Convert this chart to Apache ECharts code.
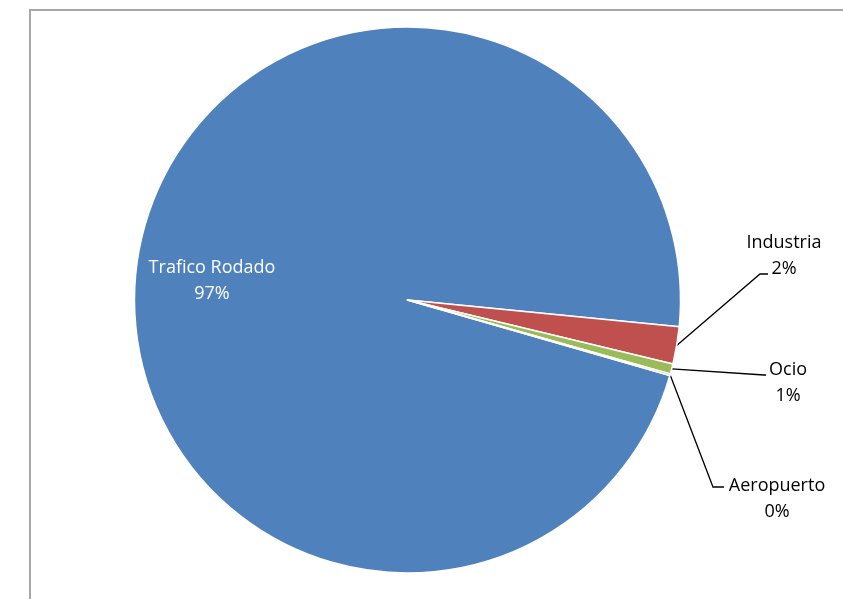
<!DOCTYPE html>
<html>
<head>
<meta charset="utf-8">
<style>
  html, body { margin: 0; padding: 0; background: #ffffff; overflow: hidden; }
  #frame { position: absolute; left: 29px; top: 9px; width: 900px; height: 700px; border: 2px solid #a8a8a8; box-sizing: border-box; }
  #chart { position: absolute; left: 0; top: 0; width: 843px; height: 599px; }
</style>
<script src="https://cdn.jsdelivr.net/npm/echarts@6/dist/echarts.min.js"></script>
</head>
<body>
<div id="frame"></div>
<div id="chart"></div>
<script>
// Data
var categories = ['Trafico Rodado', 'Industria', 'Ocio', 'Aeropuerto'];
var values = [97.1, 2.2, 0.6, 0.1];
var percentLabels = ['97%', '2%', '1%', '0%'];
var colors = ['#4F81BD', '#C0504D', '#9BBB59', '#8064A2'];

// Label placement (layout only)
var labelPlacement = [
  { x: 212, y: 281, line: null },
  { x: 784, y: 256, line: [[760, 274], [768, 274]] },
  { x: 788, y: 383, line: [[764, 375], [766, 375]] },
  { x: 777, y: 499, line: [[713, 487], [724, 487]] }
];

var chart = echarts.init(document.getElementById('chart'), null, { renderer: 'canvas' });

var pieData = categories.map(function (name, i) {
  return {
    name: name,
    value: values[i],
    itemStyle: { color: colors[i] },
    label: {
      show: true,
      formatter: name + '\n' + percentLabels[i],
      color: i === 0 ? '#ffffff' : '#000000',
      position: i === 0 ? 'inside' : 'outside'
    },
    labelLine: { show: i !== 0 }
  };
});

chart.setOption({
  animation: false,
  backgroundColor: 'transparent',
  series: [{
    type: 'pie',
    center: [407.5, 300],
    radius: [0, 273],
    startAngle: -16.06,
    clockwise: true,
    avoidLabelOverlap: false,
    itemStyle: { borderColor: '#ffffff', borderWidth: 1.5 },
    label: {
      fontFamily: '"Open Sans", sans-serif',
      fontSize: 18,
      lineHeight: 26,
      align: 'center'
    },
    labelLine: {
      show: true,
      length: 20,
      length2: 10,
      lineStyle: { color: '#000000', width: 1.3 }
    },
    labelLayout: function (params) {
      var p = labelPlacement[params.dataIndex];
      var res = { x: p.x, y: p.y, align: 'center', verticalAlign: 'middle' };
      if (p.line && params.labelLinePoints) {
        var start = params.labelLinePoints[0];
        res.labelLinePoints = [start, p.line[0], p.line[1]];
      }
      return res;
    },
    data: pieData
  }]
});
</script>
</body>
</html>
